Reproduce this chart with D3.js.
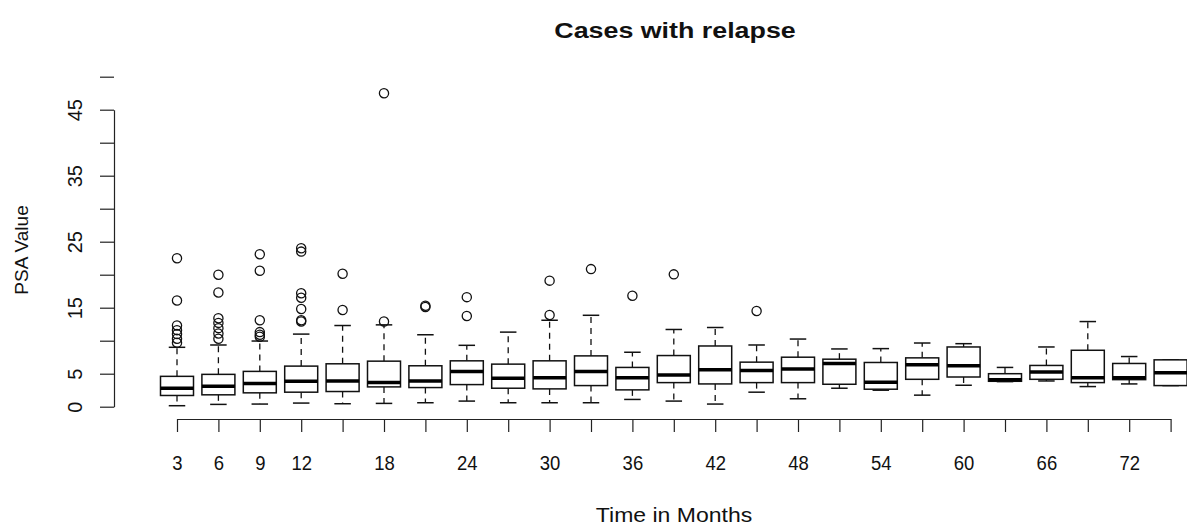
<!DOCTYPE html>
<html>
<head>
<meta charset="utf-8">
<title>Cases with relapse</title>
<script src="https://d3js.org/d3.v7.min.js"></script>
<style>
  body { margin: 0; background: #fff; }
  svg text { font-family: "Liberation Sans", Arial, sans-serif; fill: #111; }
</style>
</head>
<body>
<div id="chart"></div>
<script>
// months since treatment (one box per group)
var months = [3, 6, 9, 12, 15, 18, 21, 24, 27, 30, 33, 36, 39, 42, 45, 48, 51, 54, 57, 60, 63, 66, 69, 72, 75];
var monthLabels = [3, 6, 9, 12, 18, 24, 30, 36, 42, 48, 54, 60, 66, 72];

// box statistics
var whiskerLow  = [0.15, 0.35, 0.4, 0.55, 0.45, 0.5, 0.6, 0.85, 0.6, 0.6, 0.6, 1.1, 0.85, 0.4, 2.2, 1.2, 2.8, 2.5, 1.75, 3.25, 3.8, 3.9, 3.05, 3.45, 3.2];
var q1          = [1.7, 1.8, 2.1, 2.2, 2.3, 3.0, 2.9, 3.35, 2.8, 2.7, 3.2, 2.55, 3.65, 3.45, 3.65, 3.65, 3.4, 2.65, 4.15, 4.5, 3.85, 4.15, 3.65, 4.1, 3.2];
var median      = [2.8, 3.1, 3.5, 3.85, 3.9, 3.65, 3.9, 5.35, 4.3, 4.4, 5.35, 4.4, 4.8, 5.6, 5.5, 5.7, 6.55, 3.7, 6.35, 6.2, 4.1, 5.25, 4.4, 4.4, 5.15];
var q3          = [4.6, 4.9, 5.35, 6.15, 6.5, 6.9, 6.2, 6.95, 6.45, 6.95, 7.7, 5.95, 7.75, 9.2, 6.75, 7.5, 7.2, 6.7, 7.4, 9.05, 5.0, 6.25, 8.55, 6.55, 7.1];
var whiskerHigh = [9.0, 9.35, 9.95, 11.0, 12.3, 12.4, 10.9, 9.3, 11.3, 13.1, 13.85, 8.25, 11.7, 12.0, 9.35, 10.25, 8.75, 8.8, 9.65, 9.55, 5.95, 9.05, 12.9, 7.6, 7.1];
var outliers = [
  [9.7, 10.3, 11.0, 11.6, 12.3, 16.1, 22.5],
  [10.3, 11.1, 11.9, 12.7, 13.4, 17.3, 20.0],
  [10.6, 10.9, 11.3, 13.1, 20.6, 23.1],
  [12.9, 13.1, 14.8, 16.5, 17.2, 23.5, 24.0],
  [14.65, 20.15],
  [12.9, 47.5],
  [15.1, 15.3],
  [13.75, 16.6],
  [],
  [13.9, 19.1],
  [20.85],
  [16.8],
  [20.05],
  [],
  [14.5],
  [], [], [], [], [], [], [], [], [], []
];
var yTicks = [0, 5, 10, 15, 20, 25, 30, 35, 40, 45, 50];
var yLabels = [0, 5, 15, 25, 35, 45];

var width = 1187, height = 526;

var svg = d3.select("#chart")
  .append("svg")
  .attr("width", width)
  .attr("height", height)

var x = d3.scaleLinear().domain([3, 75]).range([177, 1170.6]);
var y = d3.scaleLinear().domain([0, 45]).range([406.7, 109.7]);

var boxW = 33, capW = 16.5;

var data = months.map(function(m, i) {
  return {m: m, lo: whiskerLow[i], q1: q1[i], med: median[i], q3: q3[i], hi: whiskerHigh[i], out: outliers[i]};
});

var g = svg.append("g").selectAll("g")
  .data(data)
  .join("g")
  .attr("transform", function(d) { return "translate(" + x(d.m) + ",0)"; });

// whiskers (dashed)
g.append("line")
  .attr("y1", function(d) { return y(d.q3); })
  .attr("y2", function(d) { return y(d.hi); })
  .attr("stroke", "#111").attr("stroke-width", 1.3).attr("stroke-dasharray", "6,5");
g.append("line")
  .attr("y1", function(d) { return y(d.q1); })
  .attr("y2", function(d) { return y(d.lo); })
  .attr("stroke", "#111").attr("stroke-width", 1.3).attr("stroke-dasharray", "6,5");

// staples
g.append("line")
  .attr("x1", -capW / 2).attr("x2", capW / 2)
  .attr("y1", function(d) { return y(d.hi); })
  .attr("y2", function(d) { return y(d.hi); })
  .attr("stroke", "#111").attr("stroke-width", 1.5);
g.append("line")
  .attr("x1", -capW / 2).attr("x2", capW / 2)
  .attr("y1", function(d) { return y(d.lo); })
  .attr("y2", function(d) { return y(d.lo); })
  .attr("stroke", "#111").attr("stroke-width", 1.5);

// boxes
g.append("rect")
  .attr("x", -boxW / 2)
  .attr("width", boxW)
  .attr("y", function(d) { return y(d.q3); })
  .attr("height", function(d) { return y(d.q1) - y(d.q3); })
  .attr("fill", "#fff")
  .attr("stroke", "#111")
  .attr("stroke-width", 1.5);

// medians
g.append("line")
  .attr("x1", -boxW / 2).attr("x2", boxW / 2)
  .attr("y1", function(d) { return y(d.med); })
  .attr("y2", function(d) { return y(d.med); })
  .attr("stroke", "#000").attr("stroke-width", 3.5);

// outliers
g.selectAll("circle")
  .data(function(d) { return d.out; })
  .join("circle")
  .attr("cy", function(v) { return y(v); })
  .attr("r", 4.6)
  .attr("fill", "none")
  .attr("stroke", "#111")
  .attr("stroke-width", 1.3);

// x axis
var xAxis = svg.append("g")
  .attr("transform", "translate(0,419)")
  .call(d3.axisBottom(x)
    .tickValues(months)
    .tickSize(13)
    .tickSizeOuter(0)
    .tickPadding(23)
    .tickFormat(function(m) { return monthLabels.indexOf(m) >= 0 ? m : ""; }));
xAxis.selectAll("path, line").attr("stroke", "#222").attr("stroke-width", 1.2);
xAxis.selectAll("text")
  .attr("font-size", 21)
  .attr("transform", "scale(0.88,1)")
  .attr("fill", "#111")
  .style("font-family", "'Liberation Sans', Arial, sans-serif");

// y axis
var yAxis = svg.append("g")
  .attr("transform", "translate(114,0)")
  .call(d3.axisLeft(y)
    .tickValues(yTicks)
    .tickSize(14)
    .tickSizeOuter(0)
    .tickFormat(function(v) { return yLabels.indexOf(v) >= 0 ? v : ""; }));
yAxis.selectAll("path, line").attr("stroke", "#222").attr("stroke-width", 1.2);
yAxis.selectAll("text")
  .attr("transform", "rotate(-90)")
  .attr("x", 0)
  .attr("y", -32)
  .attr("dy", 0)
  .attr("text-anchor", "middle")
  .attr("font-size", 20)
  .attr("fill", "#111")
  .style("font-family", "'Liberation Sans', Arial, sans-serif");

// titles
svg.append("text")
  .attr("transform", "translate(675,38) scale(1.22,1)")
  .attr("text-anchor", "middle")
  .attr("font-size", 22)
  .attr("font-weight", "bold")
  .text("Cases with relapse");

svg.append("text")
  .attr("transform", "translate(674,522) scale(1.15,1)")
  .attr("text-anchor", "middle")
  .attr("font-size", 20)
  .text("Time in Months");

svg.append("text")
  .attr("transform", "translate(28,250) rotate(-90)")
  .attr("text-anchor", "middle")
  .attr("font-size", 19)
  .text("PSA Value");
</script>
</body>
</html>
